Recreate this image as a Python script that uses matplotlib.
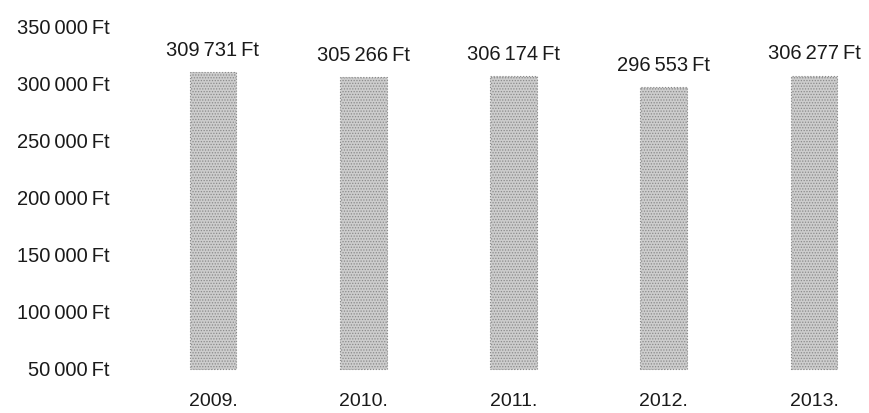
import matplotlib.pyplot as plt
from matplotlib.ticker import FuncFormatter

years = ["2009.", "2010.", "2011.", "2012.", "2013."]
values = [309731, 305266, 306174, 296553, 306277]
baseline = 50000

plt.rcParams['font.family'] = ['Liberation Sans', 'DejaVu Sans']
plt.rcParams['hatch.linewidth'] = 0.6

def ft(v):
    return f"{int(v):,}".replace(",", "\u2009") + "\u2009Ft"

fig = plt.figure(figsize=(8.7, 4.13), dpi=100)
ax = fig.add_axes([0.14, 0.0, 0.86, 1.0])

x = list(range(len(years)))
heights = [v - baseline for v in values]
ax.bar(x, heights, bottom=baseline, width=0.31, color='#cdcdcd',
       edgecolor='#8a8a8a', linewidth=0.8, linestyle=':', hatch='......')

for i, v in enumerate(values):
    ax.annotate(ft(v), (i, v), xytext=(0, 9), textcoords='offset points',
                ha='center', va='bottom', fontsize=14.5, color='#1a1a1a')
    ax.text(i, 0.027, years[i], transform=ax.get_xaxis_transform(),
            ha='center', va='center', fontsize=14, color='#1a1a1a')

ax.set_xlim(-0.607, 4.373)
ax.set_ylim(11505, 372747)
ax.set_yticks([50000, 100000, 150000, 200000, 250000, 300000, 350000])
ax.yaxis.set_major_formatter(FuncFormatter(lambda v, p: ft(v)))
ax.tick_params(axis='y', length=0, labelsize=14.5, pad=9, colors='#1a1a1a')
ax.set_xticks([])
for s in ax.spines.values():
    s.set_visible(False)

fig.savefig("out.png", dpi=100)
